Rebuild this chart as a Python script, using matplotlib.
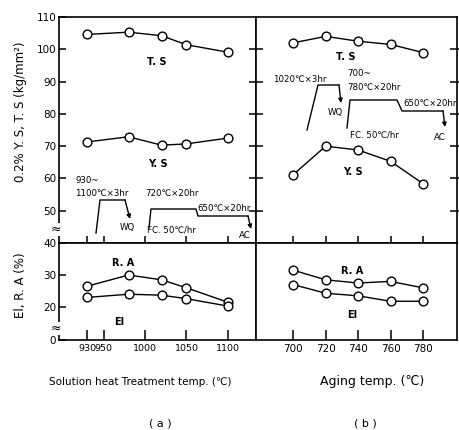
import matplotlib.pyplot as plt
from matplotlib.lines import Line2D

plt.rcParams['font.family'] = ['DejaVu Sans', 'Noto Sans CJK JP']

# (a) solution heat treatment temperature
sol_temp = [930, 980, 1020, 1050, 1100]
ts_a = [104.6, 105.3, 104.2, 101.4, 99.1]
ys_a = [71.3, 72.9, 70.3, 70.7, 72.5]
ra_a = [26.5, 30.0, 28.5, 26.0, 21.5]
el_a = [23.0, 24.0, 23.7, 22.6, 20.3]

# (b) aging temperature
age_temp = [700, 720, 740, 760, 780]
ts_b = [102.0, 104.0, 102.5, 101.5, 99.0]
ys_b = [61.2, 70.0, 68.8, 65.3, 58.4]
ra_b = [31.5, 28.5, 27.5, 28.0, 26.0]
el_b = [27.0, 24.3, 23.5, 21.8, 21.8]

sol_ticks = [930, 950, 1000, 1050, 1100]
age_ticks = [700, 720, 740, 760, 780]
str_ticks = [50, 60, 70, 80, 90, 100, 110]
duct_ticks = [20, 30, 40]

W, H = 460, 430
fig = plt.figure(figsize=(W / 100, H / 100), dpi=100)


def box(x0, y0, x1, y1):
    return [x0 / W, 1 - y1 / H, (x1 - x0) / W, (y1 - y0) / H]


def fp(x, y):
    # pixel position from top-left -> figure fraction
    return x / W, 1 - y / H


ax_ta = fig.add_axes(box(59, 17, 256, 243))
ax_ba = fig.add_axes(box(59, 243, 256, 340))
ax_tb = fig.add_axes(box(256, 17, 457, 243))
ax_bb = fig.add_axes(box(256, 243, 457, 340))

for ax in (ax_ta, ax_ba, ax_tb, ax_bb):
    for s in ax.spines.values():
        s.set_linewidth(1.2)
    ax.tick_params(width=1.1, labelsize=7.5, colors='k')

ax_ta.set_xlim(896, 1134)
ax_ba.set_xlim(896, 1134)
ax_tb.set_xlim(677, 801)
ax_bb.set_xlim(677, 801)
for ax in (ax_ta, ax_tb):
    ax.set_ylim(40, 110)
for ax in (ax_ba, ax_bb):
    ax.set_ylim(9.7, 40)

style = dict(color='k', lw=1.0, marker='o', ms=6.3, mfc='white', mec='k', mew=1.0)
ax_ta.plot(sol_temp, ts_a, **style)
ax_ta.plot(sol_temp, ys_a, **style)
ax_ba.plot(sol_temp, ra_a, **style)
ax_ba.plot(sol_temp, el_a, **style)
ax_tb.plot(age_temp, ts_b, **style)
ax_tb.plot(age_temp, ys_b, **style)
ax_bb.plot(age_temp, ra_b, **style)
ax_bb.plot(age_temp, el_b, **style)

# top-left
ax_ta.set_yticks(str_ticks)
ax_ta.tick_params(axis='y', direction='in', length=5, pad=2)
ax_ta.set_xticks(sol_ticks)
ax_ta.tick_params(axis='x', direction='inout', length=10, labelbottom=False)

# top-right
ax_tb.set_yticks(str_ticks[:-1])
ax_tb.tick_params(axis='y', direction='inout', length=10, left=True, right=True,
                  labelleft=False)
ax_tb.set_xticks(age_ticks)
ax_tb.tick_params(axis='x', direction='inout', length=10, labelbottom=False)

# bottom-left
ax_ba.set_yticks(duct_ticks + [9.7])
ax_ba.set_yticklabels(['20', '30', '40', '0'])
ax_ba.tick_params(axis='y', direction='in', length=5, pad=2)
ax_ba.set_xticks(sol_ticks)
ax_ba.tick_params(axis='x', direction='in', length=7, pad=3, labelsize=6.8)

# bottom-right
ax_bb.set_yticks([])
ax_bb.set_xticks(age_ticks)
ax_bb.tick_params(axis='x', direction='in', length=7, pad=3)

# axis breaks
for y in (229, 328):
    fig.text(*fp(56, y), "≈", fontsize=9, ha='center', va='center',
             bbox=dict(facecolor='white', edgecolor='none', pad=0))

# curve labels
lab = dict(fontsize=7, ha='center', va='center', fontweight='bold')
fig.text(*fp(157, 62), "T. S", **lab)
fig.text(*fp(158, 164), "Y. S", **lab)
fig.text(*fp(123, 263), "R. A", **lab)
fig.text(*fp(119, 322), "El", **lab)
fig.text(*fp(346, 57), "T. S", **lab)
fig.text(*fp(353, 172), "Y. S", **lab)
fig.text(*fp(352, 271), "R. A", **lab)
fig.text(*fp(352, 315), "El", **lab)

# heat treatment schematics
note = dict(fontsize=6.2, va='center', ha='left')


def path(pts, arrow_to):
    xs = [fp(*p)[0] for p in pts]
    ys = [fp(*p)[1] for p in pts]
    fig.add_artist(Line2D(xs, ys, color='k', lw=1.0, transform=fig.transFigure))
    fig.add_artist(plt.Annotation("", xy=fp(*arrow_to), xytext=fp(*pts[-1]),
                                  xycoords='figure fraction',
                                  textcoords='figure fraction',
                                  arrowprops=dict(arrowstyle='-|>', color='k',
                                                  lw=1.0, mutation_scale=6,
                                                  shrinkA=0, shrinkB=0)))


fig.text(*fp(76, 180), "930~", **note)
fig.text(*fp(75, 193), "1100℃×3hr", **note)
fig.text(*fp(145, 194), "720℃×20hr", **note)
fig.text(*fp(197, 209), "650℃×20hr", **note)
fig.text(*fp(127, 228), "WQ", fontsize=6.2, ha='center', va='center')
fig.text(*fp(147, 230), "FC. 50℃/hr", **note)
fig.text(*fp(245, 236), "AC", fontsize=6.2, ha='center', va='center')
path([(96, 233), (100, 200), (125, 200)], (130, 219))
path([(149, 228), (151, 209), (196, 209), (198, 216), (248, 216)], (251, 229))

fig.text(*fp(273, 79), "1020℃×3hr", **note)
fig.text(*fp(347, 73), "700~", **note)
fig.text(*fp(347, 87), "780℃×20hr", **note)
fig.text(*fp(403, 103), "650℃×20hr", **note)
fig.text(*fp(335, 113), "WQ", fontsize=6.2, ha='center', va='center')
fig.text(*fp(350, 135), "FC. 50℃/hr", **note)
fig.text(*fp(440, 137), "AC", fontsize=6.2, ha='center', va='center')
path([(307, 130), (318, 85), (339, 85)], (341, 103))
path([(347, 128), (350, 100), (397, 100), (402, 111), (443, 111)], (445, 127))

# axis titles
fig.text(*fp(21, 112), "0.2% Y. S, T. S (kg/mm²)", rotation=90, fontsize=8.5,
         ha='center', va='center')
fig.text(*fp(21, 285), "El, R. A (%)", rotation=90, fontsize=8.5,
         ha='center', va='center')
fig.text(*fp(140, 382), "Solution heat Treatment temp. (℃)", fontsize=7.5,
         ha='center', va='center')
fig.text(*fp(372, 382), "Aging temp. (℃)", fontsize=9,
         ha='center', va='center')
fig.text(*fp(160, 423), "( a )", fontsize=8, ha='center', va='center')
fig.text(*fp(365, 423), "( b )", fontsize=8, ha='center', va='center')

fig.savefig("out.png", dpi=100)
